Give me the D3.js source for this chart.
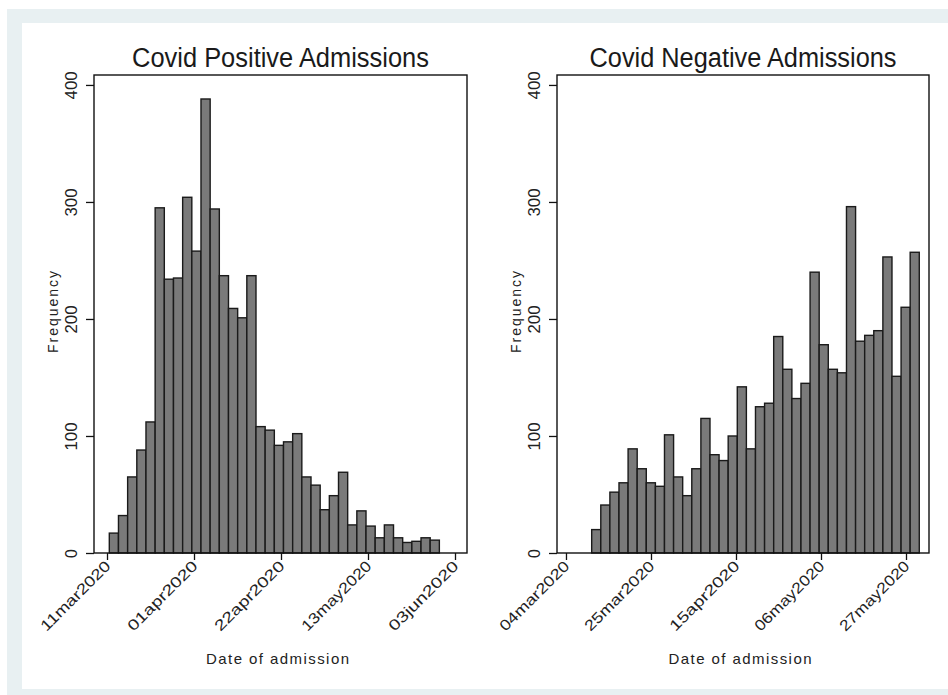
<!DOCTYPE html>
<html><head><meta charset="utf-8">
<script src="https://cdn.jsdelivr.net/npm/d3@7"></script>
<style>body{margin:0;background:#fff}</style>
</head><body><svg id="c" width="948" height="695"></svg>
<script>
// ---- data ----
const yTicks = [0, 100, 200, 300, 400];
const posTitle = "Covid Positive Admissions";
const negTitle = "Covid Negative Admissions";
const yTitle = "Frequency";
const xTitle = "Date of admission";
const posTickDates = ["2020-03-11", "2020-04-01", "2020-04-22", "2020-05-13", "2020-06-03"];
const negTickDates = ["2020-03-04", "2020-03-25", "2020-04-15", "2020-05-06", "2020-05-27"];
const posCounts = [17, 32, 65, 88, 112, 295, 234, 235, 304, 258, 388, 294, 237, 209, 201, 237, 108, 105, 92, 95,
                   102, 65, 58, 37, 49, 69, 24, 36, 23, 13, 24, 13, 9, 10, 13, 11];
const negCounts = [20, 41, 52, 60, 89, 72, 60, 57, 101, 65, 49, 72, 115, 84, 79, 100, 142, 89,
                   125, 128, 185, 157, 132, 145, 240, 178, 157, 154, 296, 181, 186, 190, 253, 151, 210, 257];
const posBinStart = "2020-03-11T13:19:00Z", posBinDays = 2.213;
const negBinStart = "2020-03-10T08:24:00Z", negBinDays = 2.248;
const posDomain = ["2020-03-07T20:38:00Z", "2020-06-05T21:30:00Z"];
const negDomain = ["2020-03-01T18:43:00Z", "2020-06-01T16:20:00Z"];

// ---- drawing ----
const svg = d3.select("#c");
const DAY = 86400000;
const fmt = d3.utcFormat("%d%b%Y");

svg.append("rect").attr("x", 7).attr("y", 9).attr("width", 941).attr("height", 686).attr("fill", "#e8f0f2");
svg.append("rect").attr("x", 22).attr("y", 23).attr("width", 926).attr("height", 666).attr("fill", "#ffffff");

const yScale = d3.scaleLinear().domain([0, 408.5]).range([553, 75]);

function panel(cfg) {
  const g = svg.append("g");
  const x = d3.scaleUtc().domain(cfg.domain.map(d => new Date(d))).range([cfg.x0, cfg.x1]);
  const start = new Date(cfg.binStart).getTime();
  const w = cfg.binDays * DAY;
  const bins = cfg.counts.map((c, i) => ({c, a: new Date(start + i * w), b: new Date(start + (i + 1) * w)}));

  g.selectAll("rect.bar").data(bins).join("rect")
    .attr("class", "bar")
    .attr("x", d => x(d.a))
    .attr("width", d => x(d.b) - x(d.a))
    .attr("y", d => yScale(d.c))
    .attr("height", d => yScale(0) - yScale(d.c))
    .attr("fill", "#7a7a7a")
    .attr("stroke", "#1a1a1a")
    .attr("stroke-width", 1.4);

  // plot box
  g.append("rect").attr("x", cfg.x0).attr("y", yScale.range()[1])
    .attr("width", cfg.x1 - cfg.x0).attr("height", yScale.range()[0] - yScale.range()[1])
    .attr("fill", "none").attr("stroke", "#111").attr("stroke-width", 1.4);

  // y axis
  const yAxis = d3.axisLeft(yScale).tickValues(yTicks).tickSize(8).tickPadding(0).tickFormat(d3.format("d"));
  const ya = g.append("g").attr("transform", `translate(${cfg.x0},0)`).call(yAxis);
  ya.select(".domain").remove();
  ya.selectAll(".tick line").attr("stroke", "#111").attr("stroke-width", 1.3);
  ya.selectAll(".tick text")
    .attr("x", null).attr("dy", null)
    .attr("transform", "translate(-17,0) rotate(-90)")
    .attr("text-anchor", "middle")
    .attr("font-family", "'Liberation Sans', Arial, sans-serif")
    .attr("font-size", 16).attr("fill", "#222")
    .each(function(d) { if (d >= 100) d3.select(this).attr("textLength", 28).attr("lengthAdjust", "spacingAndGlyphs"); });

  // x axis
  const xAxis = d3.axisBottom(x).tickValues(cfg.ticks.map(d => new Date(d + "T00:00:00Z"))).tickSize(7).tickFormat(d => fmt(d).toLowerCase());
  const xa = g.append("g").attr("transform", `translate(0,${yScale(0)})`).call(xAxis);
  xa.select(".domain").remove();
  xa.selectAll(".tick line").attr("stroke", "#111").attr("stroke-width", 1.3);
  xa.selectAll(".tick text")
    .attr("y", null).attr("dy", null)
    .attr("transform", "translate(4,14) rotate(-45)")
    .attr("text-anchor", "end")
    .attr("font-family", "'Liberation Sans', Arial, sans-serif")
    .attr("font-size", 15).attr("fill", "#222")
    .attr("textLength", 92).attr("lengthAdjust", "spacingAndGlyphs");

  const cx = (cfg.x0 + cfg.x1) / 2;
  g.append("text").attr("x", cx).attr("y", 67).attr("text-anchor", "middle")
    .attr("font-family", "'Liberation Sans Narrow', 'Liberation Sans', Arial, sans-serif")
    .attr("font-size", 27).attr("fill", "#1a1a1a")
    .attr("textLength", cfg.titleLen).attr("lengthAdjust", "spacingAndGlyphs")
    .text(cfg.title);

  g.append("text").attr("transform", `translate(${cfg.x0 - 36},312) rotate(-90)`).attr("text-anchor", "middle")
    .attr("font-family", "'Liberation Sans', Arial, sans-serif")
    .attr("font-size", 14).attr("fill", "#222")
    .attr("textLength", 82).attr("lengthAdjust", "spacing")
    .text(yTitle);

  g.append("text").attr("x", cx - 3).attr("y", 664).attr("text-anchor", "middle")
    .attr("font-family", "'Liberation Sans', Arial, sans-serif")
    .attr("font-size", 15).attr("fill", "#222")
    .attr("textLength", 143).attr("lengthAdjust", "spacing")
    .text(xTitle);
}

panel({x0: 94, x1: 467, domain: posDomain, counts: posCounts, binStart: posBinStart, binDays: posBinDays,
       ticks: posTickDates, title: posTitle, titleLen: 297});
panel({x0: 557, x1: 929, domain: negDomain, counts: negCounts, binStart: negBinStart, binDays: negBinDays,
       ticks: negTickDates, title: negTitle, titleLen: 307});
</script>
</body></html>
